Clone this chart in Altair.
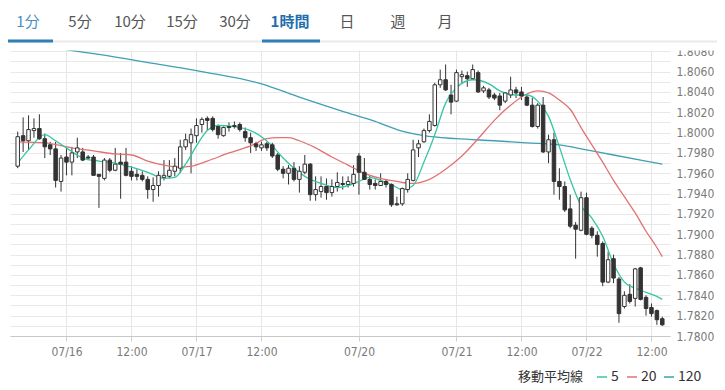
import altair as alt
import pandas as pd

# ---------------- data ----------------
OPEN = [
    1.7967, 1.7997, 1.7992, 1.8002, 1.8004, 1.7994, 1.7988, 1.7984, 1.7952, 1.7976,
    1.7971, 1.7981, 1.7981, 1.7976, 1.7976, 1.7959, 1.7955, 1.7973, 1.7963, 1.7971,
    1.7971, 1.7962, 1.7959, 1.7958, 1.7954, 1.7944, 1.7948, 1.7956, 1.7957, 1.7962,
    1.7965, 1.7986, 1.7990, 1.7997, 1.8008, 1.8014, 1.8014, 1.8006, 1.7997, 1.8006,
    1.8006, 1.8008, 1.8001, 1.7995, 1.7989, 1.7985, 1.7989, 1.7988, 1.7978, 1.7964,
    1.7960, 1.7965, 1.7954, 1.7961, 1.7969, 1.7939, 1.7942, 1.7947, 1.7941, 1.7947,
    1.7950, 1.7949, 1.7950, 1.7977, 1.7961, 1.7954, 1.7950, 1.7948, 1.7952, 1.7949,
    1.7930, 1.7930, 1.7944, 1.7953, 1.7985, 1.7991, 1.8002, 1.8007, 1.8047, 1.8052,
    1.8037, 1.8031, 1.8055, 1.8056, 1.8053, 1.8059, 1.8041, 1.8042, 1.8037, 1.8036,
    1.8031, 1.8037, 1.8042, 1.8040, 1.8035, 1.8027, 1.8006, 1.8027, 1.7981, 1.7993,
    1.7952, 1.7947, 1.7925, 1.7909, 1.7904, 1.7936, 1.7906, 1.7899, 1.7891, 1.7853,
    1.7876, 1.7856, 1.7829, 1.7841, 1.7837, 1.7867, 1.7838, 1.7828, 1.7825, 1.7817,
]
HIGH = [
    1.8001, 1.8015, 1.8017, 1.8014, 1.8018, 1.7999, 1.7991, 1.7991, 1.7978, 1.7985,
    1.7986, 1.7995, 1.7985, 1.7978, 1.7978, 1.7959, 1.7975, 1.7975, 1.7985, 1.7980,
    1.7985, 1.7967, 1.7964, 1.7962, 1.7957, 1.7956, 1.7962, 1.7973, 1.7973, 1.7975,
    1.7993, 1.7999, 1.8004, 1.8014, 1.8015, 1.8016, 1.8016, 1.8008, 1.8006, 1.8010,
    1.8011, 1.8010, 1.8005, 1.8000, 1.7991, 1.7991, 1.7991, 1.7990, 1.7980, 1.7967,
    1.7968, 1.7971, 1.7967, 1.7978, 1.7970, 1.7957, 1.7957, 1.7955, 1.7954, 1.7961,
    1.7957, 1.7957, 1.7968, 1.7980, 1.7975, 1.7958, 1.7954, 1.7960, 1.7954, 1.7950,
    1.7937, 1.7946, 1.7960, 1.7993, 1.7993, 1.8004, 1.8018, 1.8049, 1.8062, 1.8067,
    1.8047, 1.8062, 1.8061, 1.8060, 1.8067, 1.8061, 1.8046, 1.8044, 1.8039, 1.8039,
    1.8040, 1.8055, 1.8045, 1.8045, 1.8038, 1.8034, 1.8029, 1.8035, 1.7998, 1.8000,
    1.7965, 1.7952, 1.7939, 1.7912, 1.7942, 1.7941, 1.7908, 1.7903, 1.7893, 1.7883,
    1.7880, 1.7858, 1.7844, 1.7851, 1.7867, 1.7868, 1.7840, 1.7832, 1.7826, 1.7819,
]
LOW = [
    1.7965, 1.7981, 1.7983, 1.7995, 1.7993, 1.7975, 1.7978, 1.7946, 1.7942, 1.7958,
    1.7958, 1.7975, 1.7972, 1.7973, 1.7958, 1.7926, 1.7953, 1.7961, 1.7962, 1.7935,
    1.7957, 1.7953, 1.7953, 1.7952, 1.7935, 1.7932, 1.7937, 1.7953, 1.7955, 1.7957,
    1.7960, 1.7983, 1.7960, 1.7990, 1.8000, 1.8002, 1.8001, 1.7994, 1.7996, 1.8001,
    1.8004, 1.8001, 1.7991, 1.7980, 1.7982, 1.7982, 1.7982, 1.7975, 1.7962, 1.7955,
    1.7949, 1.7952, 1.7941, 1.7959, 1.7933, 1.7933, 1.7936, 1.7934, 1.7937, 1.7942,
    1.7944, 1.7946, 1.7947, 1.7939, 1.7954, 1.7944, 1.7944, 1.7948, 1.7946, 1.7927,
    1.7928, 1.7928, 1.7941, 1.7952, 1.7976, 1.7990, 1.8000, 1.8006, 1.8044, 1.8041,
    1.8018, 1.8030, 1.8049, 1.8045, 1.8052, 1.8039, 1.8039, 1.8033, 1.8032, 1.8022,
    1.8029, 1.8034, 1.8034, 1.8032, 1.8026, 1.8005, 1.8004, 1.7980, 1.7970, 1.7939,
    1.7934, 1.7922, 1.7906, 1.7876, 1.7903, 1.7899, 1.7896, 1.7878, 1.7849, 1.7852,
    1.7852, 1.7813, 1.7827, 1.7832, 1.7829, 1.7835, 1.7820, 1.7819, 1.7811, 1.7810,
]
CLOSE = [
    1.7996, 1.7992, 1.8003, 1.8004, 1.7994, 1.7986, 1.7984, 1.7953, 1.7975, 1.7971,
    1.7980, 1.7985, 1.7973, 1.7975, 1.7958, 1.7957, 1.7973, 1.7963, 1.7969, 1.7969,
    1.7958, 1.7957, 1.7957, 1.7954, 1.7944, 1.7948, 1.7958, 1.7958, 1.7963, 1.7967,
    1.7986, 1.7993, 1.7998, 1.8007, 1.8013, 1.8012, 1.8003, 1.7998, 1.8005, 1.8005,
    1.8007, 1.8003, 1.7995, 1.7990, 1.7986, 1.7988, 1.7985, 1.7977, 1.7964, 1.7960,
    1.7965, 1.7954, 1.7962, 1.7969, 1.7939, 1.7944, 1.7947, 1.7941, 1.7947, 1.7951,
    1.7949, 1.7952, 1.7959, 1.7961, 1.7954, 1.7949, 1.7948, 1.7952, 1.7949, 1.7929,
    1.7929, 1.7945, 1.7954, 1.7983, 1.7989, 1.8002, 1.8011, 1.8047, 1.8052, 1.8042,
    1.8030, 1.8059, 1.8057, 1.8053, 1.8062, 1.8040, 1.8044, 1.8035, 1.8034, 1.8027,
    1.8039, 1.8042, 1.8039, 1.8036, 1.8027, 1.8006, 1.8027, 1.7981, 1.7993, 1.7952,
    1.7947, 1.7924, 1.7908, 1.7905, 1.7936, 1.7900, 1.7899, 1.7890, 1.7853, 1.7875,
    1.7857, 1.7822, 1.7840, 1.7834, 1.7866, 1.7836, 1.7827, 1.7822, 1.7816, 1.7811,
]

MA5_IDX = [0, 2, 5, 7, 9, 12, 15, 18, 21, 24, 27, 29, 31, 33, 35, 37, 40, 43, 45, 47,
           49, 51, 53, 56, 59, 61, 63, 65, 67, 69, 71, 73, 75, 77, 79, 81, 84, 87, 89, 92,
           94, 96, 98, 100, 102, 104, 106, 108, 110, 112, 114, 116, 118, 119]
MA5_VAL = [1.7970, 1.7983, 1.7998, 1.7992, 1.7985, 1.7975, 1.7972, 1.7970, 1.7966, 1.7961,
           1.7955, 1.7956, 1.7969, 1.7987, 1.8002, 1.8007, 1.8006, 1.8002, 1.7996, 1.7987,
           1.7975, 1.7965, 1.7957, 1.7950, 1.7946, 1.7948, 1.7952, 1.7956, 1.7953, 1.7949,
           1.7944, 1.7948, 1.7971, 1.7998, 1.8029, 1.8044, 1.8052, 1.8048, 1.8041, 1.8037,
           1.8037, 1.8031, 1.8016, 1.7986, 1.7954, 1.7928, 1.7916, 1.7898, 1.7871, 1.7853,
           1.7847, 1.7843, 1.7839, 1.7836]

MA20_IDX = [0, 5, 10, 14, 18, 21, 24, 27, 30, 32, 35, 39, 43, 46, 48, 50, 52, 55, 58, 61,
            64, 67, 70, 73, 76, 79, 82, 85, 88, 91, 94, 96, 98, 100, 102, 104, 106, 108, 110,
            112, 114, 116, 118, 119]
MA20_VAL = [1.7991, 1.7990, 1.7985, 1.7982, 1.7979, 1.7978, 1.7972, 1.7968, 1.7966, 1.7967,
            1.7972, 1.7980, 1.7987, 1.7994, 1.7995, 1.7995, 1.7992, 1.7985, 1.7976, 1.7968,
            1.7960, 1.7955, 1.7952, 1.7950, 1.7954, 1.7964, 1.7977, 1.7994, 1.8012, 1.8027,
            1.8038, 1.8041, 1.8039, 1.8032, 1.8023, 1.8005, 1.7988, 1.7971, 1.7953, 1.7937,
            1.7921, 1.7903, 1.7887, 1.7878]

MA120_IDX = [0, 6, 15, 25, 35, 45, 52, 60, 66, 70, 75, 81, 88, 94, 100, 105, 110, 115, 119]
MA120_VAL = [1.8090, 1.8084, 1.8077, 1.8068, 1.8059, 1.8048, 1.8035, 1.8021, 1.8011, 1.8003,
             1.7997, 1.7994, 1.7992, 1.7990, 1.7988, 1.7983, 1.7978, 1.7973, 1.7969]

X_TICK_IDX = [9, 21, 33, 45, 63, 81, 93, 105, 117]
X_TICK_LABELS = ["07/16", "12:00", "07/17", "12:00", "07/20", "07/21", "12:00", "07/22", "12:00"]
Y_GRID = [round(1.7800 + k * 0.001, 4) for k in range(29)]      # grid every 0.0010
Y_LABELS = [round(1.7800 + k * 0.002, 4) for k in range(15)]    # labels every 0.0020

TABS = ["1分", "5分", "10分", "15分", "30分", "1時間", "日", "週", "月"]
LEGEND_TITLE = "移動平均線"
LEGEND_LABELS = ["5", "20", "120"]

# ---------------- layout / style ----------------
W, H = 660, 289
Y_DOMAIN = [1.7800, 1.80842]
TAB_X = [18, 70, 120, 172, 225, 280, 337, 388, 435]
TAB_COLORS = ["#4a8fc4", "#555555", "#555555", "#555555", "#555555", "#1f6fad",
              "#555555", "#555555", "#555555"]
TAB_WEIGHT = ["normal", "normal", "normal", "normal", "normal", "bold",
              "normal", "normal", "normal"]
C_MA5, C_MA20, C_MA120 = "#35c6a4", "#e27272", "#3f9fb4"
DARK = "#333333"
NARROW = "'Liberation Sans Narrow', 'DejaVu Sans Condensed', sans-serif"
CJK = "'Noto Sans CJK JP', 'Noto Sans', sans-serif"

candles = pd.DataFrame({
    "i": list(range(len(OPEN))),
    "open": OPEN, "high": HIGH, "low": LOW, "close": CLOSE,
})
ma5 = pd.DataFrame({"i": MA5_IDX, "v": MA5_VAL})
ma20 = pd.DataFrame({"i": MA20_IDX, "v": MA20_VAL})
ma120 = pd.DataFrame({"i": MA120_IDX, "v": MA120_VAL})
dummy = pd.DataFrame({"a": [0]})

x_label_expr = ("[" + ",".join("'%s'" % s for s in X_TICK_LABELS) + "][indexof(["
                + ",".join(str(v) for v in X_TICK_IDX) + "], datum.value)]")

xscale = alt.Scale(domain=[-0.5, len(OPEN) - 0.5], nice=False, zero=False)
yscale = alt.Scale(domain=Y_DOMAIN, nice=False, zero=False)

xaxis = alt.Axis(values=X_TICK_IDX, labelExpr=x_label_expr, title=None, grid=True,
                 gridColor="#e6e6e6", domainColor="#c8c8c8", tickColor="#d0d0d0",
                 tickSize=5, labelFont=NARROW, labelFontSize=12, labelColor="#7a7a7a",
                 labelPadding=5, labelOverlap=False, zindex=0)
# grid-only axis (every 0.0010) on the wick layer
ygrid_axis = alt.Axis(orient="right", values=Y_GRID, title=None, grid=True,
                      gridColor="#e8e8e8", domain=False, ticks=False, labels=False,
                      zindex=0)
# labelled axis (every 0.0020) on the body layer
ylab_axis = alt.Axis(orient="right", values=Y_LABELS, title=None, grid=False,
                     domain=False, ticks=False, format=".4f",
                     labelFont=NARROW, labelFontSize=12, labelColor="#7a7a7a",
                     labelPadding=6, labelOverlap=False, zindex=0)

XENC = alt.X("i:Q", scale=xscale, axis=xaxis)


def ma_line(df, color):
    return alt.Chart(df).mark_line(color=color, strokeWidth=1.3, interpolate="monotone",
                                   clip=True).encode(
        x=XENC, y=alt.Y("v:Q", scale=yscale, axis=None))


wicks = alt.Chart(candles).mark_rule(color=DARK, strokeWidth=1).encode(
    x=XENC, y=alt.Y("low:Q", scale=yscale, axis=ygrid_axis), y2="high:Q")
bodies = alt.Chart(candles).mark_bar(size=3.5, stroke=DARK, strokeWidth=1).encode(
    x=XENC, y=alt.Y("open:Q", scale=yscale, axis=ylab_axis), y2="close:Q",
    fill=alt.condition("datum.close >= datum.open", alt.value("#ffffff"), alt.value(DARK)))

base = alt.layer(wicks, ma_line(ma120, C_MA120), ma_line(ma20, C_MA20),
                 ma_line(ma5, C_MA5), bodies).resolve_axis(y="independent")

layers = [base]

# white band under the tab bar (hides the top of the chart like the reference)
layers.append(alt.Chart(dummy).mark_rect(color="white").encode(
    x=alt.value(-2), x2=alt.value(710), y=alt.value(-39), y2=alt.value(3.5)))
# tab bar
layers.append(alt.Chart(dummy).mark_rule(color="#e9e9e9", strokeWidth=2).encode(
    x=alt.value(-2), x2=alt.value(710), y=alt.value(-5.5)))
layers.append(alt.Chart(dummy).mark_rule(color="#2f7fb6", strokeWidth=3).encode(
    x=alt.value(-2), x2=alt.value(43), y=alt.value(-6)))
layers.append(alt.Chart(dummy).mark_rule(color="#2f7fb6", strokeWidth=3).encode(
    x=alt.value(252), x2=alt.value(310), y=alt.value(-6)))
for t, tx, tc, tw in zip(TABS, TAB_X, TAB_COLORS, TAB_WEIGHT):
    layers.append(alt.Chart(dummy).mark_text(text=t, font=CJK, fontSize=15, color=tc,
                                             fontWeight=tw, align="center",
                                             baseline="middle").encode(
        x=alt.value(tx), y=alt.value(-25)))

# legend
LEG_Y = 330
layers.append(alt.Chart(dummy).mark_text(text=LEGEND_TITLE, font=CJK, fontSize=13,
                                         color="#333333", align="right",
                                         baseline="middle").encode(
    x=alt.value(573), y=alt.value(LEG_Y)))
for lab, col, x0 in zip(LEGEND_LABELS, [C_MA5, C_MA20, C_MA120], [587, 617, 654]):
    layers.append(alt.Chart(dummy).mark_rule(color=col, strokeWidth=1.5).encode(
        x=alt.value(x0), x2=alt.value(x0 + 10), y=alt.value(LEG_Y)))
    layers.append(alt.Chart(dummy).mark_text(text=lab, font=CJK, fontSize=14,
                                             color="#333333", align="left",
                                             baseline="middle").encode(
        x=alt.value(x0 + 14), y=alt.value(LEG_Y)))

chart = alt.layer(*layers).properties(
    width=W, height=H,
    padding={"left": 2, "top": 39, "right": 47, "bottom": 50},
    autosize=alt.AutoSizeParams(type="none"),
    background="white",
).configure_view(strokeWidth=0)

chart.save("out.html", embed_options={"renderer": "svg", "actions": False})
